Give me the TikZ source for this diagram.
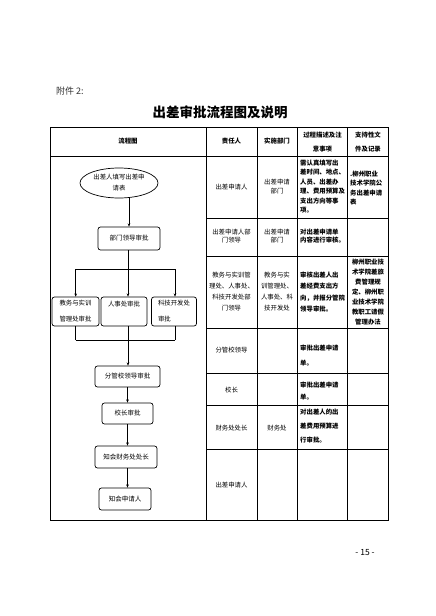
\documentclass[tikz,border=0pt]{standalone}
\usepackage{fontspec}
\setmainfont{Noto Sans CJK SC}
\usetikzlibrary{shapes.geometric,arrows.meta}
\tikzset{
  flowbox/.style={draw, line width=0.7pt, rounded corners=2.5pt, inner sep=0pt, font=\fontsize{6.5}{9}\selectfont},
  tline/.style={line width=0.8pt},
  arr/.style={line width=0.5pt, -{Stealth[length=3.2pt,width=2.6pt]}},
  conn/.style={line width=0.5pt},
  cell/.style={inner sep=0pt, align=center, font=\fontsize{6.4}{9}\selectfont},
  lcell/.style={inner sep=0pt, align=left, anchor=west, font=\fontsize{6.4}{9}\selectfont\bfseries},
  hcell/.style={inner sep=0pt, align=center, font=\fontsize{6.4}{14}\selectfont\bfseries},
}
\begin{document}
\begin{tikzpicture}[x=1pt,y=-1pt]
\useasboundingbox (0,0) rectangle (436,616);
\fill[white] (0,0) rectangle (436,616);
% header texts
\node[anchor=west, inner sep=0pt, font=\fontsize{9}{11}\selectfont, text=black!80] (att) at (56,91) {附件 2:};
\node[inner sep=0pt, font=\fontsize{13.5}{15}\selectfont\bfseries] (title) at (220,112) {出差审批流程图及说明};
\node[inner sep=0pt, font=\fontsize{8.5}{10}\selectfont] (pg) at (365,553) {-\ 15\ -};
% table frame
\draw[tline] (50.5,127) rectangle (388,520);
\draw[tline] (50.5,156) -- (388,156);
\foreach \x in {206,257,297.5,347.5} \draw[tline] (\x,127) -- (\x,520);
\foreach \y in {218,256,328,373,405,449} \draw[tline] (206,\y) -- (388,\y);
% header cells
\node[hcell] (h1) at (128,141) {流程图};
\node[hcell] (h2) at (231.5,141) {责任人};
\node[hcell] (h3) at (277,141) {实施部门};
\node[hcell] (h4) at (322.5,142) {过程描述及注\\意事项};
\node[hcell] (h5) at (368,142) {支持性文\\件及记录};
% row 1
\node[cell] (r1b) at (231.5,187) {出差申请人};
\node[cell, font=\fontsize{6.4}{8.5}\selectfont] (r1c) at (277,186.5) {出差申请\\部门};
\node[lcell, font=\fontsize{6.4}{9.4}\selectfont\bfseries] (r1d) at (300,186.5) {需认真填写出\\差时间、地点、\\人员、出差办\\理、费用预算及\\支出方向等事\\项。};
\node[lcell, font=\fontsize{6.4}{9.2}\selectfont\bfseries] (r1e) at (350,188) {.柳州职业\\技术学院公\\务出差申请\\表};
% row 2
\node[cell, font=\fontsize{6.4}{8.5}\selectfont] (r2b) at (231.5,236) {出差申请人部\\门领导};
\node[cell, font=\fontsize{6.4}{8.5}\selectfont] (r2c) at (277,236) {出差申请\\部门};
\node[lcell, font=\fontsize{6.4}{8.5}\selectfont\bfseries] (r2d) at (300,236) {对出差申请单\\内容进行审核。};
% row 3
\node[cell, font=\fontsize{6.4}{11}\selectfont] (r3b) at (231.5,292) {教务与实训管\\理处、人事处、\\科技开发处部\\门领导};
\node[cell, font=\fontsize{6.4}{11}\selectfont] (r3c) at (277,292) {教务与实\\训管理处、\\人事处、科\\技开发处};
\node[lcell, font=\fontsize{6.4}{11.3}\selectfont\bfseries] (r3d) at (300,292) {审核出差人出\\差经费支出方\\向，并报分管院\\领导审批。};
\node[cell, font=\fontsize{6.4}{10}\selectfont\bfseries] (r3e) at (368,292) {柳州职业技\\术学院差旅\\费管理规\\定、柳州职\\业技术学院\\教职工请假\\管理办法};
% row 4
\node[cell] (r4b) at (231.5,350) {分管校领导};
\node[lcell, font=\fontsize{6.4}{15}\selectfont\bfseries] (r4d) at (300,356) {审批出差申请\\单。};
% row 5
\node[cell] (r5b) at (231.5,390) {校长};
\node[lcell, font=\fontsize{6.4}{12.5}\selectfont\bfseries] (r5d) at (300,391) {审批出差申请\\单。};
% row 6
\node[cell] (r6b) at (231.5,428) {财务处处长};
\node[cell] (r6c) at (277,428) {财务处};
\node[lcell, font=\fontsize{6.4}{14}\selectfont\bfseries] (r6d) at (300,426) {对出差人的出\\差费用预算进\\行审批。};
% row 7
\node[cell] (r7b) at (231.5,485) {出差申请人};
% flowchart
\node[ellipse, draw, line width=0.7pt, minimum width=78pt, minimum height=30pt, inner sep=0pt, align=center, font=\fontsize{6.4}{11}\selectfont] (ell) at (119,183) {出差人填写出差申\\请表};
\node[flowbox, minimum width=62pt, minimum height=23pt] (dept) at (129,238.5) {部门领导审批};
\node[flowbox, minimum width=47pt, minimum height=29pt, align=left, font=\fontsize{6.4}{16}\selectfont] (b1) at (75.5,311.5) {教务与实训\\管理处审批};
\node[flowbox, minimum width=46pt, minimum height=29pt, align=center, font=\fontsize{6.4}{16}\selectfont] (b2) at (124,311.5) {人事处审批\\~};
\node[flowbox, minimum width=45pt, minimum height=29pt, align=left, font=\fontsize{6.4}{16}\selectfont] (b3) at (174,311.5) {科技开发处\\审批\phantom{开发处}};
\node[flowbox, minimum width=65pt, minimum height=21pt] (fg) at (127.5,376.5) {分管校领导审批};
\node[flowbox, minimum width=51pt, minimum height=21pt] (xz) at (127.5,413.5) {校长审批};
\node[flowbox, minimum width=62pt, minimum height=22pt] (cw) at (126,457) {知会财务处处长};
\node[flowbox, minimum width=52pt, minimum height=22pt] (sq) at (125,499) {知会申请人};
% junctions
\coordinate (jl) at (75.7,269);
\coordinate (jm) at (128,269);
\coordinate (jr) at (175,269);
\coordinate (kl) at (75.7,340);
\coordinate (km) at (128,340);
\coordinate (kr) at (175,340);
% connectors
\draw[arr] (ell.south -| dept.north) -- (dept.north);
\draw[conn] (dept.south -| jm) -- (jm);
\draw[conn] (jl) -- (jr);
\draw[arr] (jl) -- (b1.north -| jl);
\draw[arr] (jm) -- (b2.north -| jm);
\draw[arr] (jr) -- (b3.north -| jr);
\draw[conn] (b1.south -| kl) -- (kl);
\draw[conn] (b2.south -| km) -- (km);
\draw[conn] (b3.south -| kr) -- (kr);
\draw[conn] (kl) -- (kr);
\draw[arr] (km) -- (fg.north -| km);
\draw[arr] (fg.south -| xz.north) -- (xz.north);
\draw[arr] (xz.south) -- (xz.south |- cw.north);
\draw[arr] (cw.south -| xz.south) -- (xz.south |- sq.north);
\end{tikzpicture}
\end{document}
